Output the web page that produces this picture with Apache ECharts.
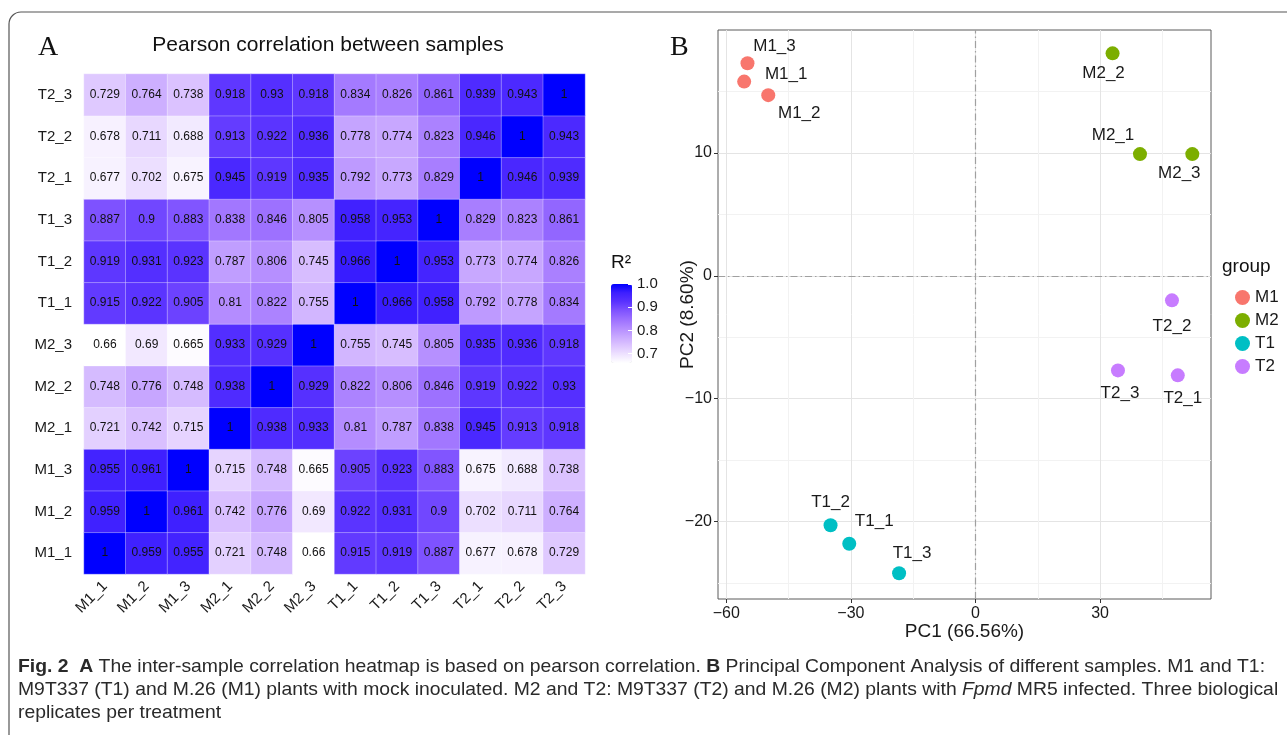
<!DOCTYPE html>
<html>
<head>
<meta charset="utf-8">
<script src="https://cdn.jsdelivr.net/npm/echarts@6/dist/echarts.min.js"></script>
<style>
html,body{margin:0;padding:0;background:#fff}
#main{width:1287px;height:735px}
</style>
</head>
<body>
<div id="main"></div>
<script>
/* Panel A: pearson correlation between samples */
var samples = ['M1_1','M1_2','M1_3','M2_1','M2_2','M2_3','T1_1','T1_2','T1_3','T2_1','T2_2','T2_3'];

// one row per sample, columns in the same order as samples
var rM1_1 = [1, 0.959, 0.955, 0.721, 0.748, 0.66, 0.915, 0.919, 0.887, 0.677, 0.678, 0.729];
var rM1_2 = [0.959, 1, 0.961, 0.742, 0.776, 0.69, 0.922, 0.931, 0.9, 0.702, 0.711, 0.764];
var rM1_3 = [0.955, 0.961, 1, 0.715, 0.748, 0.665, 0.905, 0.923, 0.883, 0.675, 0.688, 0.738];
var rM2_1 = [0.721, 0.742, 0.715, 1, 0.938, 0.933, 0.81, 0.787, 0.838, 0.945, 0.913, 0.918];
var rM2_2 = [0.748, 0.776, 0.748, 0.938, 1, 0.929, 0.822, 0.806, 0.846, 0.919, 0.922, 0.93];
var rM2_3 = [0.66, 0.69, 0.665, 0.933, 0.929, 1, 0.755, 0.745, 0.805, 0.935, 0.936, 0.918];
var rT1_1 = [0.915, 0.922, 0.905, 0.81, 0.822, 0.755, 1, 0.966, 0.958, 0.792, 0.778, 0.834];
var rT1_2 = [0.919, 0.931, 0.923, 0.787, 0.806, 0.745, 0.966, 1, 0.953, 0.773, 0.774, 0.826];
var rT1_3 = [0.887, 0.9, 0.883, 0.838, 0.846, 0.805, 0.958, 0.953, 1, 0.829, 0.823, 0.861];
var rT2_1 = [0.677, 0.702, 0.675, 0.945, 0.919, 0.935, 0.792, 0.773, 0.829, 1, 0.946, 0.939];
var rT2_2 = [0.678, 0.711, 0.688, 0.913, 0.922, 0.936, 0.778, 0.774, 0.823, 0.946, 1, 0.943];
var rT2_3 = [0.729, 0.764, 0.738, 0.918, 0.93, 0.918, 0.834, 0.826, 0.861, 0.939, 0.943, 1];
var corrRows = [rM1_1, rM1_2, rM1_3, rM2_1, rM2_2, rM2_3, rT1_1, rT1_2, rT1_3, rT2_1, rT2_2, rT2_3];

var colorbarTicks = [0.7, 0.8, 0.9, 1.0];

/* Panel B: PCA */
var groups = ['M1','M2','T1','T2'];
var pcaNames = ['M1_1','M1_2','M1_3','M2_1','M2_2','M2_3','T1_1','T1_2','T1_3','T2_1','T2_2','T2_3'];
var pcaGroup = ['M1','M1','M1','M2','M2','M2','T1','T1','T1','T2','T2','T2'];
var pc1 = [-55.7, -49.9, -54.9, 39.6, 33.0, 52.2, -30.4, -34.9, -18.4, 48.7, 47.3, 34.3];
var pc2 = [15.8, 14.7, 17.3, 9.9, 18.1, 9.9, -21.8, -20.3, -24.2, -8.1, -2.0, -7.7];

var pc1Ticks = [-60, -30, 0, 30];
var pc1Minor = [-45, -15, 15, 45];
var pc2Ticks = [-20, -10, 0, 10];
var pc2Minor = [-25, -15, -5, 5, 15];

// ggrepel-like label placement (px offsets from the point)
var labelOffset = {
	M1_1: [42, -7], M1_2: [31, 18], M1_3: [27, -17],
	M2_1: [-27, -19], M2_2: [-9, 20], M2_3: [-13, 19],
	T1_1: [25, -22], T1_2: [0, -23], T1_3: [13, -20],
	T2_1: [5, 23], T2_2: [0, 26], T2_3: [2, 23]
};
var groupColors = ['#F8766D', '#7CAE00', '#00BFC4', '#C77CFF'];

var FONT = "'Liberation Sans', Arial, sans-serif";
var TXT = '#1a1a1a';

var chart = echarts.init(document.getElementById('main'));

var hmData = [];
corrRows.forEach(function (row, r) {
	row.forEach(function (v, c) { hmData.push([c, r, v]); });
});

function minus(v) { return String(v).replace('-', '\u2212'); }

var scatterSeries = groups.map(function (g, gi) {
	var pts = [];
	pcaNames.forEach(function (n, i) {
		if (pcaGroup[i] === g) {
			pts.push({ name: n, value: [pc1[i], pc2[i]], label: { offset: labelOffset[n] } });
		}
	});
	var s = {
		name: g,
		type: 'scatter',
		xAxisIndex: 1,
		yAxisIndex: 1,
		symbolSize: 14,
		itemStyle: { color: groupColors[gi], opacity: 1 },
		label: { show: true, position: 'inside', formatter: '{b}', color: TXT, fontSize: 17, fontFamily: FONT },
		emphasis: { disabled: true },
		z: 5,
		data: pts
	};
	if (gi === 0) {
		// dot-dash zero lines
		s.markLine = {
			silent: true,
			symbol: 'none',
			label: { show: false },
			lineStyle: { color: '#a0a0a0', type: [7, 3, 1.5, 3], width: 1.2 },
			data: [{ xAxis: 0 }, { yAxis: 0 }]
		};
	}
	return s;
});

// caption: measure line 1 and squeeze to the figure width
var capSize = 19;
var capFamily = "'Liberation Sans Narrow', 'Liberation Sans', sans-serif";
var capLines = [
	[['Fig. 2', 'b'], ['  ', ''], ['A', 'b'], [' The inter-sample correlation heatmap is based on pearson correlation. ', ''], ['B', 'b'], [' Principal Component Analysis of different samples. M1 and T1:', '']],
	[['M9T337 (T1) and M.26 (M1) plants with mock inoculated. M2 and T2: M9T337 (T2) and M.26 (M2) plants with ', ''], ['Fpmd', 'i'], [' MR5 infected. Three biological', '']],
	[['replicates per treatment', '']]
];
var ctx = document.createElement('canvas').getContext('2d');
function segWidth(seg) {
	ctx.font = (seg[1] === 'b' ? 'bold ' : '') + (seg[1] === 'i' ? 'italic ' : '') + capSize + 'px ' + capFamily;
	return ctx.measureText(seg[0]).width;
}
var line1W = 0;
capLines[0].forEach(function (s) { line1W += segWidth(s); });
var capScale = 1247 / line1W;

function richLine(segs) {
	return segs.map(function (s) {
		return s[1] ? '{' + s[1] + '|' + s[0] + '}' : s[0];
	}).join('');
}
var capY = [667, 690, 713];
var capChildren = capLines.map(function (segs, i) {
	return {
		type: 'text',
		x: 0,
		y: capY[i],
		style: {
			text: richLine(segs),
			fontSize: capSize,
			fontFamily: capFamily,
			fill: '#2a2a2a',
			verticalAlign: 'middle',
			rich: {
				b: { fontWeight: 'bold', fontSize: capSize, fontFamily: capFamily, fill: '#2a2a2a' },
				i: { fontStyle: 'italic', fontSize: capSize, fontFamily: capFamily, fill: '#2a2a2a' }
			}
		}
	};
});

var option = {
	backgroundColor: '#fff',
	animation: false,
	grid: [
		{ left: 84, top: 74, width: 501, height: 500, show: false },
		{ left: 718, top: 30, width: 493, height: 569, show: true, borderColor: '#5a5a5a', borderWidth: 1, backgroundColor: 'transparent' },
		{ left: 611, top: 284, width: 21, height: 79, show: false }
	],
	xAxis: [
		{
			gridIndex: 0, type: 'category', data: samples, offset: 4,
			axisLine: { show: false },
			axisTick: { alignWithLabel: true, length: 4, lineStyle: { color: '#333' } },
			axisLabel: { rotate: 45, fontSize: 15, color: TXT, fontFamily: FONT, margin: 6 },
			splitLine: { show: false }
		},
		{
			gridIndex: 1, type: 'value', min: -62, max: 56.7, position: 'bottom',
			axisLine: { show: false, onZero: false },
			axisTick: { show: true, length: 4, customValues: pc1Ticks, lineStyle: { color: '#333' } },
			axisLabel: { customValues: pc1Ticks, formatter: minus, fontSize: 16, color: TXT, fontFamily: FONT, margin: 7 },
			splitLine: { show: true, lineStyle: { color: '#e4e4e4', width: 1 } },
			name: 'PC1 (66.56%)', nameLocation: 'middle', nameGap: 23, nameMoveOverlap: false,
			nameTextStyle: { fontSize: 19, color: TXT, fontFamily: FONT }
		},
		{
			gridIndex: 1, type: 'value', min: -62, max: 56.7, position: 'bottom',
			axisLine: { show: false, onZero: false },
			axisTick: { show: false, customValues: pc1Minor },
			axisLabel: { show: false, customValues: pc1Minor },
			splitLine: { show: true, lineStyle: { color: '#f2f2f2', width: 1 } }
		},
		{ gridIndex: 2, type: 'value', show: false, min: 0, max: 1 }
	],
	yAxis: [
		{
			gridIndex: 0, type: 'category', data: samples, offset: 4,
			axisLine: { show: false },
			axisTick: { alignWithLabel: true, length: 4, lineStyle: { color: '#333' } },
			axisLabel: { fontSize: 15, color: TXT, fontFamily: FONT, margin: 8 },
			splitLine: { show: false }
		},
		{
			gridIndex: 1, type: 'value', min: -26.3, max: 20.0, position: 'left',
			axisLine: { show: false, onZero: false },
			axisTick: { show: true, length: 4, customValues: pc2Ticks, lineStyle: { color: '#333' } },
			axisLabel: { customValues: pc2Ticks, formatter: minus, fontSize: 16, color: TXT, fontFamily: FONT, margin: 6 },
			splitLine: { show: true, lineStyle: { color: '#e4e4e4', width: 1 } },
			name: 'PC2 (8.60%)', nameLocation: 'middle', nameGap: 21, nameRotate: 90, nameMoveOverlap: false,
			nameTextStyle: { fontSize: 19, color: TXT, fontFamily: FONT }
		},
		{
			gridIndex: 1, type: 'value', min: -26.3, max: 20.0, position: 'left',
			axisLine: { show: false, onZero: false },
			axisTick: { show: false, customValues: pc2Minor },
			axisLabel: { show: false, customValues: pc2Minor },
			splitLine: { show: true, lineStyle: { color: '#f2f2f2', width: 1 } }
		},
		{
			gridIndex: 2, type: 'value', min: 0.66, max: 1, position: 'right', z: 10,
			axisLine: { show: false, onZero: false },
			axisTick: { show: true, inside: true, length: 4, customValues: colorbarTicks, lineStyle: { color: '#fff', width: 1 } },
			axisLabel: {
				customValues: colorbarTicks, fontSize: 15, color: TXT, fontFamily: FONT, margin: 5,
				formatter: function (v) { return Number(v).toFixed(1); }
			},
			splitLine: { show: false }
		}
	],
	visualMap: {
		type: 'continuous',
		seriesIndex: 0,
		min: 0.66,
		max: 1,
		left: 611,
		top: 284,
		itemWidth: 21,
		itemHeight: 79,
		padding: 0,
		calculable: false,
		hoverLink: false,
		text: null,
		inRange: {
			// white -> blue, interpolated in Lab like ggplot's gradient
			color: ['#ffffff', '#eee2ff', '#dcc4ff', '#c8a8ff', '#b38bff', '#9b6fff', '#7e52ff', '#5932ff', '#3e1fff', '#0000ff']
		}
	},
	legend: {
		data: groups,
		orient: 'vertical',
		left: 1230,
		top: 284,
		itemWidth: 15,
		itemHeight: 15,
		itemGap: 6,
		icon: 'circle',
		selectedMode: false,
		textStyle: { fontSize: 17, color: TXT, fontFamily: FONT }
	},
	series: [
		{
			type: 'heatmap',
			xAxisIndex: 0,
			yAxisIndex: 0,
			data: hmData,
			label: {
				show: true,
				color: '#111',
				fontSize: 12,
				fontFamily: FONT,
				formatter: function (p) { return String(p.value[2]); }
			},
			itemStyle: { borderColor: 'rgba(255,255,255,0.55)', borderWidth: 0.6 },
			emphasis: { disabled: true }
		}
	].concat(scatterSeries),
	graphic: [
		{
			type: 'rect', silent: true,
			shape: { x: 9, y: 12, width: 1300, height: 740, r: 12 },
			style: { fill: 'none', stroke: '#555', lineWidth: 1.2 }
		},
		{ type: 'text', x: 38, y: 48, style: { text: 'A', fontSize: 28, fontFamily: "'Liberation Serif', serif", fill: '#111', verticalAlign: 'middle' } },
		{ type: 'text', x: 670, y: 48, style: { text: 'B', fontSize: 28, fontFamily: "'Liberation Serif', serif", fill: '#111', verticalAlign: 'middle' } },
		{ type: 'text', x: 328, y: 45, style: { text: 'Pearson correlation between samples', fontSize: 21, fontFamily: FONT, fill: '#111', align: 'center', verticalAlign: 'middle' } },
		{ type: 'text', x: 611, y: 263, style: { text: 'R\u00b2', fontSize: 19, fontFamily: FONT, fill: '#111', verticalAlign: 'middle' } },
		{ type: 'text', x: 1222, y: 267, style: { text: 'group', fontSize: 19, fontFamily: FONT, fill: '#111', verticalAlign: 'middle' } },
		{ type: 'group', x: 18, y: 0, scaleX: capScale, children: capChildren }
	]
};

chart.setOption(option, true);
</script>
</body>
</html>
